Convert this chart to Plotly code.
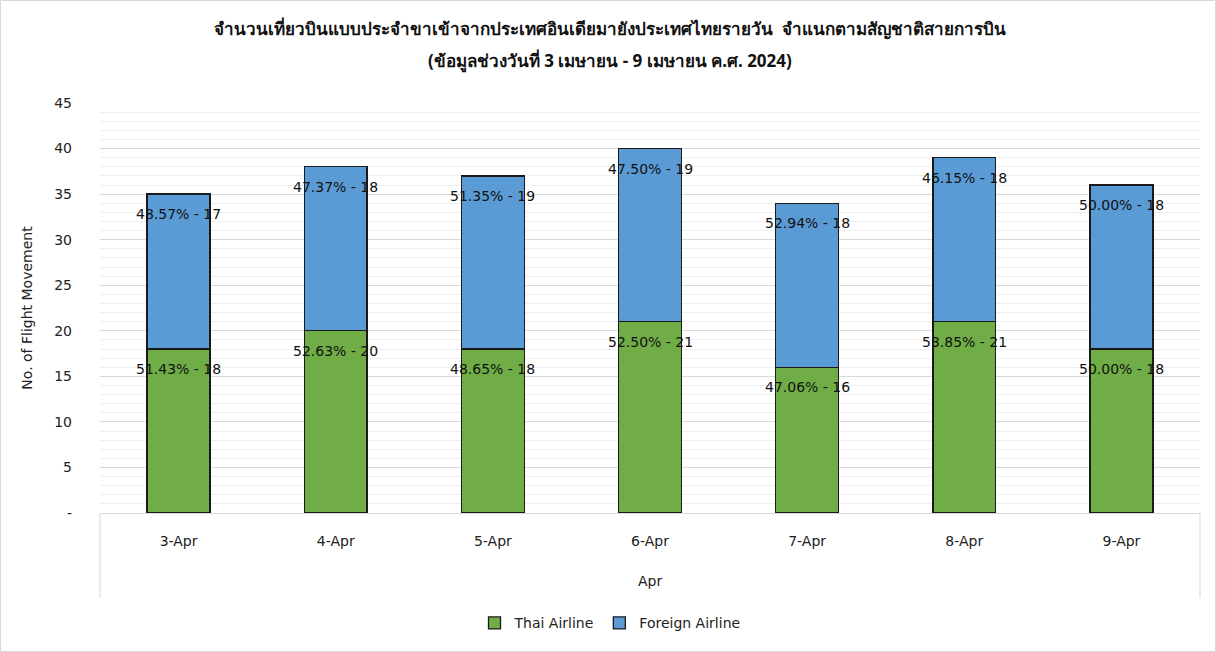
import plotly.graph_objects as go

dates = ["3-Apr", "4-Apr", "5-Apr", "6-Apr", "7-Apr", "8-Apr", "9-Apr"]
thai = [18, 20, 18, 21, 16, 21, 18]
foreign = [17, 18, 19, 19, 18, 18, 18]
month_label = "Apr"
y_ticks = [0, 5, 10, 15, 20, 25, 30, 35, 40, 45]
y_tick_text = ["-", "5", "10", "15", "20", "25", "30", "35", "40", "45"]
title_line1 = "จำนวนเที่ยวบินแบบประจำขาเข้าจากประเทศอินเดียมายังประเทศไทยรายวัน  จำแนกตามสัญชาติสายการบิน"
title_line2 = "(ข้อมูลช่วงวันที่ 3 เมษายน - 9 เมษายน ค.ศ. 2024)"

totals = [a + b for a, b in zip(thai, foreign)]
thai_text = [f"{a / t * 100:.2f}% - {a}" for a, t in zip(thai, totals)]
foreign_text = [f"{b / t * 100:.2f}% - {b}" for b, t in zip(foreign, totals)]

FONT = "DejaVu Sans"
fig = go.Figure()
fig.add_trace(go.Bar(
    x=dates, y=thai, name="Thai Airline",
    marker=dict(color="#70ad47", line=dict(color="#1a1a1a", width=1.3)),
))
fig.add_trace(go.Bar(
    x=dates, y=foreign, name="Foreign Airline",
    marker=dict(color="#5b9bd5", line=dict(color="#1a1a1a", width=1.3)),
))

# data labels near the top of each segment
for d, a, b, ta, tb in zip(dates, thai, foreign, thai_text, foreign_text):
    fig.add_annotation(x=d, y=a, text=ta, showarrow=False, yshift=-20,
                       font=dict(size=14, color="#111111", family=FONT))
    fig.add_annotation(x=d, y=a + b, text=tb, showarrow=False, yshift=-20,
                       font=dict(size=14, color="#111111", family=FONT))

fig.update_layout(
    width=1216, height=652,
    barmode="stack", bargap=0.6,
    plot_bgcolor="white", paper_bgcolor="white",
    margin=dict(l=100, r=16, t=103, b=139, autoexpand=False),
    font=dict(family=FONT, size=14, color="#222222"),
    legend=dict(orientation="h", x=(610 - 100) / 1100, xanchor="center", y=-0.23, yanchor="top",
                font=dict(size=14, family=FONT), traceorder="normal"),
    showlegend=True,
)
fig.add_annotation(text="<b>" + title_line1 + "</b>", xref="paper", yref="paper",
                   x=(610 - 100) / 1100, y=(513 - 28) / 410, showarrow=False,
                   yanchor="middle", xanchor="center",
                   font=dict(size=17, color="#111111", family="Noto Sans, DejaVu Sans"))
fig.add_annotation(text="<b>" + title_line2 + "</b>", xref="paper", yref="paper",
                   x=(610 - 100) / 1100, y=(513 - 61) / 410, showarrow=False,
                   yanchor="middle", xanchor="center",
                   font=dict(size=17, color="#111111", family="Noto Sans, DejaVu Sans"))
fig.update_yaxes(
    range=[0, 45], tickvals=y_ticks, ticktext=y_tick_text,
    showgrid=True, gridcolor="#d9d9d9", gridwidth=1,
    minor=dict(dtick=1, showgrid=True, gridcolor="#eeeeee", gridwidth=1),
    zeroline=False, ticks="", ticklabelstandoff=27, automargin=False,
    title=dict(text="No. of Flight Movement", font=dict(size=14), standoff=18),
    tickfont=dict(size=14),
)
fig.update_xaxes(
    showline=True, linecolor="#d9d9d9", linewidth=1, automargin=False,
    ticks="", tickfont=dict(size=14), ticklabelstandoff=15,
)
# multi-level category box
for xv in [0, 1]:
    fig.add_shape(type="line", xref="paper", yref="paper", x0=xv, x1=xv, y0=0, y1=-0.207,
                  line=dict(color="#d9d9d9", width=1))
fig.add_annotation(text=month_label, xref="paper", yref="paper", x=0.5, y=(513 - 581) / 410,
                   showarrow=False, yanchor="middle", font=dict(size=14, family=FONT))
# outer border
fig.add_shape(type="rect", xref="paper", yref="paper", x0=-99.5 / 1100, x1=1 + 15.5 / 1100,
              y0=-138.5 / 410, y1=1 + 102.5 / 410, line=dict(color="#d9d9d9", width=1))
fig.write_html("out.html", config={"displayModeBar": False},
               post_script="document.body.style.margin='0';document.body.style.overflow='hidden';")
